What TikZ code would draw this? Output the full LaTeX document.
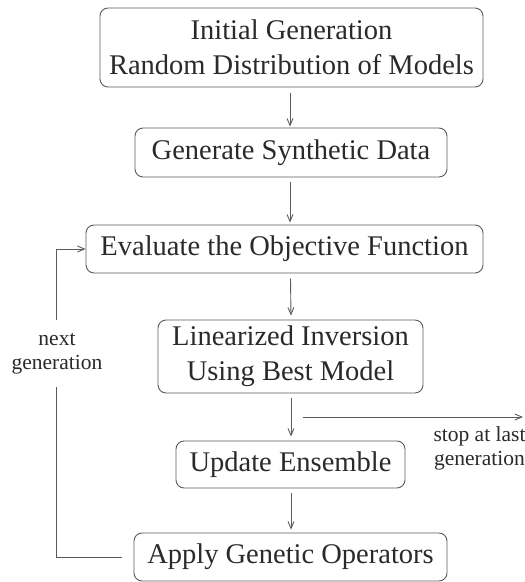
\documentclass[tikz,border=0pt]{standalone}
\usepackage{fontspec}
\setmainfont{Liberation Serif}
\usetikzlibrary{arrows.meta}
\definecolor{linegray}{HTML}{5A5A5A}
\definecolor{textdark}{HTML}{2A2A2A}
\begin{document}
\begin{tikzpicture}[x=1pt,y=-1pt,
  stage/.style={draw=linegray, line width=0.9pt, rounded corners=8pt, inner sep=0pt,
    align=center, font=\fontsize{28.5}{35}\selectfont, text=textdark},
  flow/.style={draw=linegray, line width=0.9pt, -{Straight Barb[length=7pt,width=6pt]}},
  note/.style={font=\fontsize{21.5}{24}\selectfont, align=center, text=textdark}]
\useasboundingbox (0,0) rectangle (525,582);

% process stages
\node[stage, minimum width=383pt, minimum height=79pt] (init) at (291.5,47.5)
  {Initial Generation\\Random Distribution of Models};
\node[stage, minimum width=312pt, minimum height=49pt] (synth) at (291,152.5)
  {Generate Synthetic Data};
\node[stage, minimum width=397pt, minimum height=48pt] (eval) at (284.5,249)
  {Evaluate the Objective Function};
\node[stage, minimum width=265pt, minimum height=73pt] (lin) at (290.5,356.5)
  {Linearized Inversion\\Using Best Model};
\node[stage, minimum width=229pt, minimum height=47pt] (upd) at (290.5,464.5)
  {Update Ensemble};
\node[stage, minimum width=313pt, minimum height=48pt] (apply) at (290.5,557)
  {Apply Genetic Operators};

% main flow
\draw[flow] ([shift={(-1.5,6)}]init.south) -- ([shift={(-1,-1)}]synth.north);
\draw[flow] ([shift={(-1,5)}]synth.south) -- ([shift={(5.5,-2)}]eval.north);
\draw[flow] ([shift={(6,5)}]eval.south) -- ([shift={(0.5,-4)}]lin.north);
\draw[flow] ([shift={(0.5,5)}]lin.south) -- ([shift={(0.5,-4)}]upd.north);
\draw[flow] ([shift={(0.5,5)}]upd.south) -- ([shift={(0.5,-3)}]apply.north);

% feedback loop to the next generation
\draw[flow] ([xshift=-12pt]apply.west) -- ++(-65,0) |- (eval.west);
\node[note, fill=white, inner xsep=2pt, inner ysep=0pt, minimum height=67pt]
  (next) at (57,353.5) {next\\generation};

% exit after the last generation
\coordinate (stopA) at (303,417);
\coordinate (stopB) at (523,417);
\draw[flow] (stopA) -- (stopB);
\node[note] (stop) at (479.5,448) {stop at last\\generation};
\end{tikzpicture}
\end{document}
